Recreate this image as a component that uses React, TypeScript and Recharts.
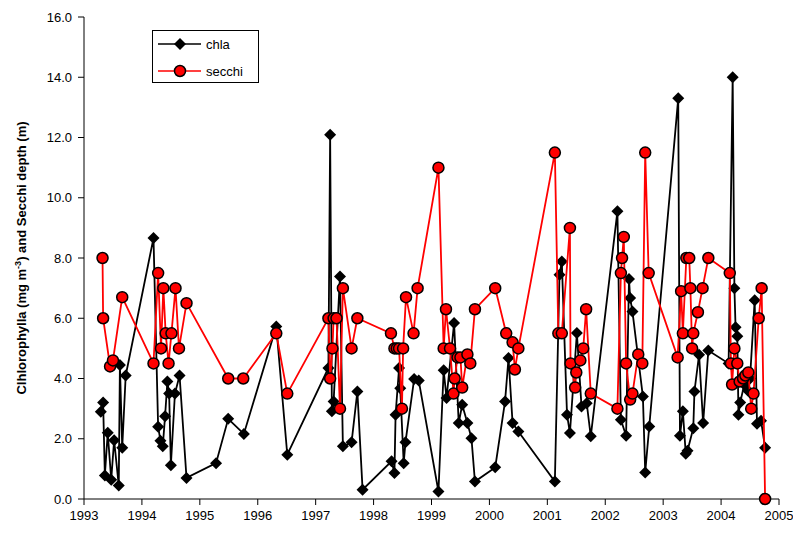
import React from "react";
import {
  ScatterChart,
  Scatter,
  XAxis,
  YAxis,
} from "recharts";

// chlorophyll a, year (decimal) and mg m-3
const chlaYears = [
  1993.29, 1993.33, 1993.36, 1993.41, 1993.47, 1993.52, 1993.6, 1993.62, 1993.66, 1993.72,
  1994.2, 1994.28, 1994.32, 1994.36, 1994.4, 1994.44, 1994.47, 1994.5, 1994.57, 1994.65, 1994.77,
  1995.28, 1995.49, 1995.76, 1996.32, 1996.51,
  1997.22, 1997.25, 1997.28, 1997.31, 1997.42, 1997.47, 1997.62, 1997.72, 1997.81,
  1998.31, 1998.36, 1998.38, 1998.44, 1998.46, 1998.52, 1998.55, 1998.7, 1998.78,
  1999.12, 1999.21, 1999.26, 1999.39, 1999.47, 1999.53, 1999.62, 1999.69, 1999.75,
  2000.1, 2000.27, 2000.33, 2000.4, 2000.5,
  2001.13, 2001.21, 2001.25, 2001.34, 2001.39, 2001.51, 2001.59, 2001.68, 2001.75,
  2002.21, 2002.27, 2002.36, 2002.41, 2002.43, 2002.47, 2002.65, 2002.69, 2002.76,
  2003.26, 2003.29, 2003.34, 2003.39, 2003.42, 2003.52, 2003.54, 2003.62, 2003.69, 2003.78,
  2004.13, 2004.2, 2004.23, 2004.25, 2004.28, 2004.3, 2004.33, 2004.4, 2004.46, 2004.5,
  2004.58, 2004.62, 2004.69, 2004.76,
];
const chlaValues = [
  2.9, 3.2, 0.78, 2.2, 0.64, 1.95, 0.45, 4.45, 1.7, 4.1,
  8.66, 2.4, 1.93, 1.75, 2.75, 3.9, 3.5, 1.12, 3.5, 4.1, 0.7,
  1.19, 2.66, 2.16, 5.73, 1.47,
  4.35, 12.09, 2.91, 3.24, 7.39, 1.75, 1.88, 3.57, 0.31,
  1.25, 0.86, 2.8, 4.35, 3.68, 1.19, 1.88, 3.98, 3.93,
  0.25, 4.27, 3.35, 5.84, 2.52, 3.13, 2.52, 2.02, 0.58,
  1.05, 3.24, 4.68, 2.52, 2.24,
  0.58, 7.44, 7.88, 2.8, 2.19, 5.51, 3.07, 3.18, 2.08,
  9.55, 2.63, 2.1, 7.3, 6.67, 6.22, 3.4, 0.88, 2.41,
  13.3, 2.1, 2.91, 1.5, 1.6, 2.35, 3.57, 4.79, 2.52, 4.93,
  4.5, 14.0, 7.0, 5.7, 5.4, 2.8, 3.2, 3.8, 3.6, 4.0,
  6.6, 2.5, 2.6, 1.7,
];

// secchi depth, year (decimal) and m
const secchiYears = [
  1993.32, 1993.33, 1993.45, 1993.5, 1993.66,
  1994.2, 1994.28, 1994.33, 1994.37, 1994.41, 1994.46, 1994.51, 1994.58, 1994.64, 1994.77,
  1995.49, 1995.75, 1996.32, 1996.51,
  1997.22, 1997.25, 1997.29, 1997.31, 1997.36, 1997.42, 1997.47, 1997.62, 1997.72,
  1998.3, 1998.36, 1998.4, 1998.44, 1998.49, 1998.51, 1998.56, 1998.69, 1998.76,
  1999.12, 1999.21, 1999.25, 1999.32, 1999.38, 1999.4, 1999.45, 1999.5, 1999.53, 1999.62, 1999.67, 1999.75,
  2000.1, 2000.29, 2000.4, 2000.44, 2000.5,
  2001.13, 2001.19, 2001.25, 2001.39, 2001.4, 2001.48, 2001.5, 2001.57, 2001.62, 2001.67, 2001.75,
  2002.21, 2002.27, 2002.29, 2002.32, 2002.36, 2002.43, 2002.47, 2002.57, 2002.64, 2002.69, 2002.75,
  2003.25, 2003.31, 2003.34, 2003.4, 2003.45, 2003.47, 2003.5, 2003.52, 2003.6, 2003.68, 2003.78,
  2004.15, 2004.17, 2004.19, 2004.23, 2004.28, 2004.32, 2004.38, 2004.42, 2004.47, 2004.52,
  2004.56, 2004.65, 2004.7, 2004.76,
];
const secchiValues = [
  8.0, 6.0, 4.4, 4.6, 6.7,
  4.5, 7.5, 5.0, 7.0, 5.5, 4.5, 5.5, 7.0, 5.0, 6.5,
  4.0, 4.0, 5.5, 3.5,
  6.0, 4.0, 5.0, 6.0, 6.0, 3.0, 7.0, 5.0, 6.0,
  5.5, 5.0, 5.0, 5.0, 3.0, 5.0, 6.7, 5.5, 7.0,
  11.0, 5.0, 6.3, 5.0, 3.5, 4.0, 4.7, 4.7, 3.7, 4.8, 4.5, 6.3,
  7.0, 5.5, 5.2, 4.3, 5.0,
  11.5, 5.5, 5.5, 9.0, 4.5, 3.7, 4.2, 4.6, 5.0, 6.3, 3.5,
  3.0, 7.5, 8.0, 8.7, 4.5, 3.3, 3.5, 4.8, 4.5, 11.5, 7.5,
  4.7, 6.9, 5.5, 8.0, 8.0, 7.0, 5.0, 5.5, 6.2, 7.0, 8.0,
  7.5, 4.5, 3.8, 5.0, 4.5, 3.9, 4.0, 4.1, 4.2, 3.0,
  3.5, 6.0, 7.0, 0.0,
];

const yTicks = [0, 2, 4, 6, 8, 10, 12, 14, 16];
const xTicks = [1993, 1994, 1995, 1996, 1997, 1998, 1999, 2000, 2001, 2002, 2003, 2004, 2005];

const chlaData = chlaYears.map((x, i) => ({ x, y: chlaValues[i] }));
const secchiData = secchiYears.map((x, i) => ({ x, y: secchiValues[i] }));

const FONT = "'Liberation Sans', Arial, sans-serif";

const DiamondDot = (props: any) => {
  const { cx, cy } = props;
  const s = 6;
  return <path d={`M${cx},${cy - s}L${cx + s},${cy}L${cx},${cy + s}L${cx - s},${cy}Z`} fill="#000000" />;
};

const CircleDot = (props: any) => {
  const { cx, cy } = props;
  return <circle cx={cx} cy={cy} r={5.5} fill="#FF0000" stroke="#000000" strokeWidth={1.5} />;
};

const YTitle = (props: any) => {
  const vb = props.viewBox || {};
  const cy = vb.y + vb.height / 2;
  const x = 18;
  return (
    <text
      x={x}
      y={cy}
      transform={`rotate(-90, ${x}, ${cy})`}
      textAnchor="middle"
      fontFamily={FONT}
      fontSize={13}
      fontWeight="bold"
      fill="#000"
    >
      Clhlorophylla (mg m
      <tspan dy={-5} fontSize={9}>-3</tspan>
      <tspan dy={5}>) and Secchi depth (m)</tspan>
    </text>
  );
};

const LegendBox = () => (
  <div
    style={{
      position: "absolute",
      left: 144,
      top: 22,
      width: 107,
      height: 53,
      border: "1px solid #000",
      background: "#fff",
      boxSizing: "border-box",
    }}
  >
    <svg width={105} height={51} style={{ display: "block" }}>
      <line x1={5} x2={48} y1={13} y2={13} stroke="#000" strokeWidth={1.5} />
      <DiamondDot cx={27} cy={13} />
      <text x={53} y={13} dy="0.35em" fontFamily={FONT} fontSize={13} fill="#000">chla</text>
      <line x1={5} x2={48} y1={40} y2={40} stroke="#FF0000" strokeWidth={1.5} />
      <CircleDot cx={27} cy={40} />
      <text x={53} y={40} dy="0.35em" fontFamily={FONT} fontSize={13} fill="#000">secchi</text>
    </svg>
  </div>
);

export default function App() {
  return (
    <div style={{ position: "relative", width: 793, height: 527, background: "#fff" }}>
      <ScatterChart width={793} height={527} margin={{ top: 9, right: 22, bottom: 0, left: 0 }}>
        <XAxis
          type="number"
          dataKey="x"
          domain={[1993, 2005]}
          ticks={xTicks}
          interval={0}
          height={36}
          tickSize={6}
          tickMargin={6}
          stroke="#000"
          tick={{ fill: "#000", fontSize: 13, fontFamily: FONT }}
          allowDataOverflow
        />
        <YAxis
          type="number"
          dataKey="y"
          domain={[0, 16]}
          ticks={yTicks}
          interval={0}
          width={76}
          tickSize={6}
          tickMargin={6}
          stroke="#000"
          tickFormatter={(v: number) => v.toFixed(1)}
          tick={{ fill: "#000", fontSize: 13, fontFamily: FONT }}
          label={(p: any) => <YTitle {...p} />}
        />
        <Scatter
          name="chla"
          data={chlaData}
          line={{ stroke: "#000000", strokeWidth: 1.8 }}
          lineType="joint"
          shape={<DiamondDot />}
          isAnimationActive={false}
        />
        <Scatter
          name="secchi"
          data={secchiData}
          line={{ stroke: "#FF0000", strokeWidth: 1.8 }}
          lineType="joint"
          shape={<CircleDot />}
          isAnimationActive={false}
        />
      </ScatterChart>
      <LegendBox />
    </div>
  );
}
